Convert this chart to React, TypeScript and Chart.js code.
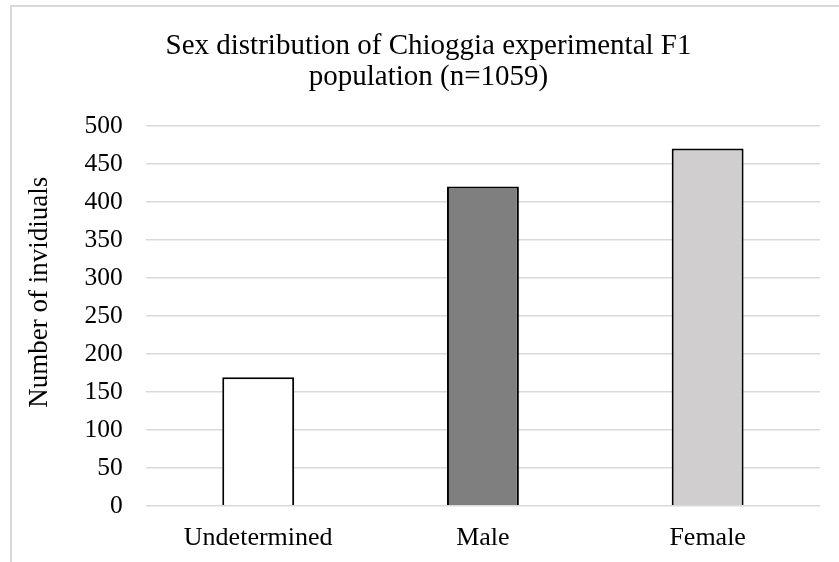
import React, { useEffect, useRef } from "react";
import { Chart, registerables } from "chart.js";

Chart.register(...registerables);

const categories: string[] = ["Undetermined", "Male", "Female"];
const counts: number[] = [169, 420, 470];
const barColors: string[] = ["#ffffff", "#7f7f7f", "#d0cece"];
const titleLines: string[] = ["Sex distribution of Chioggia experimental F1", "population (n=1059)"];
const yAxisTitle = "Number of invidiuals";

const FONT = '"Liberation Serif", "Times New Roman", serif';
// leading spaces nudge the rotated axis title upward, as in the reference
const Y_TITLE_LEAD = "\u0020".repeat(7);

export default function App() {
  const canvasRef = useRef<HTMLCanvasElement | null>(null);

  useEffect(() => {
    if (!canvasRef.current) return;
    const chart = new Chart(canvasRef.current, {
      type: "bar",
      data: {
        labels: categories,
        datasets: [
          {
            data: counts,
            backgroundColor: barColors,
            borderColor: "#000000",
            borderWidth: 2,
            barPercentage: 0.32,
            categoryPercentage: 1,
          },
        ],
      },
      options: {
        responsive: false,
        animation: false,
        layout: { padding: { left: 25, right: 24, top: 0, bottom: 0 } },
        plugins: {
          legend: { display: false },
          tooltip: { enabled: false },
          title: {
            display: true,
            text: titleLines,
            color: "#000000",
            font: { family: FONT, size: 29, weight: "normal", lineHeight: 1.1 },
            padding: { top: 23, bottom: 32 },
          },
        },
        scales: {
          x: {
            grid: { display: false, drawTicks: false },
            border: { display: false },
            ticks: {
              color: "#000000",
              font: { family: FONT, size: 26 },
              padding: 17,
            },
          },
          y: {
            min: 0,
            max: 500,
            grid: { color: "#d9d9d9", lineWidth: 1.5, drawTicks: false },
            border: { display: false },
            ticks: {
              stepSize: 50,
              color: "#000000",
              font: { family: FONT, size: 25.5 },
              padding: 23,
            },
            title: {
              display: true,
              text: Y_TITLE_LEAD + yAxisTitle,
              color: "#000000",
              font: { family: FONT, size: 27 },
              padding: { top: -13, bottom: 5.2 },
            },
          },
        },
      },
    });
    return () => chart.destroy();
  }, []);

  return (
    <div style={{ position: "fixed", inset: 0, overflow: "hidden", background: "#ffffff" }}>
      <div
        style={{
          position: "absolute",
          left: 10,
          top: 5,
          width: 832,
          height: 575,
          border: "2px solid #d9d9d9",
          background: "#ffffff",
        }}
      >
        <canvas ref={canvasRef} width={832} height={564} style={{ display: "block" }} />
      </div>
    </div>
  );
}
